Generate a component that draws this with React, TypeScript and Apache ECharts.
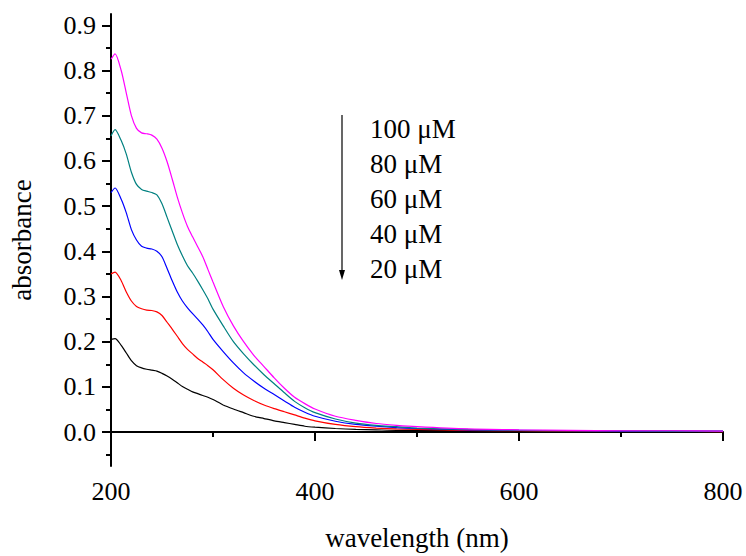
import React, { useEffect, useRef } from "react";
import * as echarts from "echarts";

const wavelengths = [200, 204, 210, 215, 220, 225, 230, 235, 240, 245, 250, 255, 260, 265, 270, 275, 280, 285, 290, 295, 300, 310, 320, 330, 340, 350, 360, 370, 380, 390, 400, 420, 440, 460, 480, 500, 550, 600, 650, 700, 750, 800];

const abs100 = [0.825, 0.837, 0.80, 0.75, 0.70, 0.672, 0.662, 0.660, 0.657, 0.648, 0.628, 0.598, 0.56, 0.52, 0.485, 0.455, 0.432, 0.41, 0.388, 0.36, 0.332, 0.278, 0.235, 0.20, 0.17, 0.145, 0.12, 0.097, 0.077, 0.063, 0.051, 0.035, 0.026, 0.019, 0.015, 0.012, 0.007, 0.005, 0.004, 0.003, 0.003, 0.002];
const abs80 = [0.655, 0.669, 0.645, 0.615, 0.575, 0.548, 0.537, 0.533, 0.530, 0.525, 0.505, 0.475, 0.445, 0.415, 0.39, 0.368, 0.352, 0.334, 0.315, 0.295, 0.272, 0.235, 0.20, 0.173, 0.149, 0.127, 0.107, 0.087, 0.068, 0.054, 0.043, 0.029, 0.02, 0.015, 0.012, 0.009, 0.006, 0.004, 0.003, 0.003, 0.002, 0.002];
const abs60 = [0.530, 0.540, 0.515, 0.485, 0.448, 0.425, 0.411, 0.407, 0.405, 0.400, 0.388, 0.362, 0.335, 0.31, 0.29, 0.275, 0.262, 0.25, 0.237, 0.222, 0.205, 0.178, 0.153, 0.131, 0.113, 0.097, 0.083, 0.069, 0.055, 0.044, 0.035, 0.024, 0.017, 0.013, 0.01, 0.008, 0.005, 0.004, 0.003, 0.002, 0.002, 0.002];
const abs40 = [0.350, 0.354, 0.335, 0.31, 0.29, 0.278, 0.273, 0.270, 0.269, 0.266, 0.258, 0.243, 0.228, 0.212, 0.196, 0.183, 0.173, 0.163, 0.155, 0.147, 0.138, 0.116, 0.097, 0.082, 0.07, 0.06, 0.052, 0.045, 0.038, 0.031, 0.025, 0.017, 0.012, 0.009, 0.007, 0.006, 0.004, 0.003, 0.002, 0.002, 0.002, 0.001];
const abs20 = [0.205, 0.207, 0.192, 0.175, 0.158, 0.147, 0.142, 0.139, 0.137, 0.135, 0.130, 0.124, 0.117, 0.109, 0.101, 0.095, 0.089, 0.085, 0.081, 0.077, 0.072, 0.06, 0.051, 0.043, 0.035, 0.03, 0.025, 0.021, 0.017, 0.013, 0.011, 0.008, 0.006, 0.005, 0.004, 0.004, 0.003, 0.002, 0.002, 0.001, 0.001, 0.001];

const seriesNames = ["100 μM", "80 μM", "60 μM", "40 μM", "20 μM"];
const seriesValues = [abs100, abs80, abs60, abs40, abs20];
const seriesColors = ["#FF00FF", "#008080", "#0000FF", "#FF0000", "#000000"];

const yMajorTicks = [0, 0.1, 0.2, 0.3, 0.4, 0.5, 0.6, 0.7, 0.8, 0.9];
const yMinorTicks = [-0.05, 0.05, 0.15, 0.25, 0.35, 0.45, 0.55, 0.65, 0.75, 0.85];

const FONT = '"Liberation Serif", "Times New Roman", serif';

export default function App() {
  const ref = useRef<HTMLDivElement>(null);
  useEffect(() => {
    document.body.style.margin = "0";
    if (!ref.current) return;
    const chart = echarts.init(ref.current, null, { renderer: "svg" });
    const axisLineStyle = { color: "#000", width: 2 };
    const legendTop = 129;
    const legendStep = 35;
    chart.setOption({
      animation: false,
      backgroundColor: "#fff",
      grid: { left: 110, right: 23, top: 14, bottom: 86 },
      xAxis: {
        type: "value",
        min: 200,
        max: 800,
        interval: 200,
        name: "wavelength (nm)",
        nameLocation: "middle",
        nameGap: 58,
        nameTextStyle: { fontFamily: FONT, fontSize: 27, color: "#000" },
        axisLine: { show: true, lineStyle: axisLineStyle },
        axisTick: { show: true, inside: false, length: 9, lineStyle: axisLineStyle },
        minorTick: { show: true, splitNumber: 2, length: 5, lineStyle: axisLineStyle },
        splitLine: { show: false },
        minorSplitLine: { show: false },
        axisLabel: { fontFamily: FONT, fontSize: 26, color: "#000", margin: 12 },
      },
      yAxis: [
        {
          type: "value",
          min: -0.075,
          max: 0.925,
          name: "absorbance",
          nameLocation: "middle",
          nameGap: 76,
          nameTextStyle: { fontFamily: FONT, fontSize: 27, color: "#000" },
          axisLine: { show: true, lineStyle: axisLineStyle },
          axisTick: { show: true, inside: false, length: 9, lineStyle: axisLineStyle, customValues: yMajorTicks },
          splitLine: { show: false },
          axisLabel: {
            fontFamily: FONT,
            fontSize: 26,
            color: "#000",
            margin: 15,
            customValues: yMajorTicks,
            formatter: (v: number) => v.toFixed(1),
          },
        },
        {
          type: "value",
          min: -0.075,
          max: 0.925,
          position: "left",
          axisLine: { show: false },
          axisTick: { show: true, inside: false, length: 5, lineStyle: axisLineStyle, customValues: yMinorTicks },
          axisLabel: { show: false },
          splitLine: { show: false },
        },
      ],
      series: seriesNames.map((name, i) => ({
        name,
        type: "line",
        yAxisIndex: 0,
        data: wavelengths.map((w, j) => [w, seriesValues[i][j]]),
        showSymbol: false,
        smooth: 0.25,
        lineStyle: { color: seriesColors[i], width: 1.2 },
        itemStyle: { color: seriesColors[i] },
        z: 5 - i,
      })),
      graphic: [
        {
          type: "line",
          shape: { x1: 342, y1: 115, x2: 342, y2: 272 },
          style: { stroke: "#000", lineWidth: 1.2 },
        },
        {
          type: "polygon",
          shape: { points: [[339, 270], [345, 270], [342, 280]] },
          style: { fill: "#000" },
        },
        ...seriesNames.map((name, i) => ({
          type: "text",
          left: 370,
          top: legendTop + i * legendStep - 14,
          style: { text: name, font: `27px ${FONT}`, fill: "#000" },
        })),
      ],
    });
    return () => chart.dispose();
  }, []);
  return <div ref={ref} style={{ width: 746, height: 556 }} />;
}
